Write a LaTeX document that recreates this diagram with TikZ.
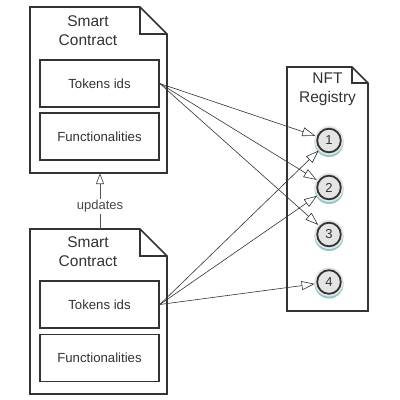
\documentclass[tikz,border=0pt]{standalone}
\usepackage{fontspec}
\setmainfont{Liberation Sans}
\usetikzlibrary{arrows.meta}
\definecolor{ink}{HTML}{333333}
\definecolor{disc}{HTML}{E4E4E4}
\definecolor{teal}{HTML}{8CC8C8}
\begin{document}
\begin{tikzpicture}[x=1pt,y=-1pt,
  docarea/.style={draw=none,minimum width=137pt,inner sep=0pt,outer sep=0pt},
  inbox/.style={draw=ink,line width=1.6pt,minimum width=119pt,minimum height=47pt,inner sep=0pt,
     font=\fontsize{13.2}{15}\selectfont,text=ink},
  head/.style={font=\fontsize{15.5}{19}\selectfont,text=ink,align=center,inner sep=0pt},
  outline/.style={draw=ink,line width=1.6pt,line join=miter,fill=white},
  link/.style={draw=ink,line width=0.6pt,-{Triangle[open,length=13pt,width=9pt]}},
  regnum/.style={circle,minimum size=29pt,inner sep=0pt,outer sep=0pt,fill=disc,font=\fontsize{13}{15}\selectfont,text=ink}
]
\useasboundingbox (0,0) rectangle (400,400);
\fill[white] (0,0) rectangle (400,400);

% top smart contract document
\node[docarea,minimum height=166pt,anchor=north west] (doc1) at (30,7) {};
\draw[outline] (30,7) -- (140,7) -- (167,34) -- (167,173) -- (30,173) -- cycle;
\draw[ink,line width=1.6pt] (140,7) -- (140,34) -- (167,34);
\node[head] (h1) at (88,30.5) {Smart\\Contract};
\node[inbox] (tok1) at (99.5,83.5) {Tokens ids};
\node[inbox] (fun1) at (99.5,136.5) {Functionalities};

% bottom smart contract document
\node[docarea,minimum height=165pt,anchor=north west] (doc2) at (30,229) {};
\draw[outline] (30,229) -- (140,229) -- (167,256) -- (167,394) -- (30,394) -- cycle;
\draw[ink,line width=1.6pt] (140,229) -- (140,256) -- (167,256);
\node[head] (h2) at (88,252) {Smart\\Contract};
\node[inbox] (tok2) at (99.5,304.5) {Tokens ids};
\node[inbox] (fun2) at (99.5,358) {Functionalities};

% updates connector
\draw[draw=ink!85,line width=0.7pt,-{Triangle[open,length=11pt,width=8pt]}] (100,229) coordinate (up2) -- (100,173) coordinate (up1)
  node[pos=0.4,fill=white,inner sep=1.5pt,font=\fontsize{13}{15}\selectfont,text=ink!90] (upd) {updates};

% NFT registry document
\node[docarea,minimum width=81pt,minimum height=244pt,anchor=north west] (reg) at (287,67) {};
\draw[outline] (287,67) -- (352,67) -- (368,83) -- (368,311) -- (287,311) -- cycle;
\draw[ink,line width=1.6pt] (352,67) -- (352,83) -- (368,83);
\node[head] (h3) at (327.5,89) {NFT\\Registry};

% registry entries
\foreach \n/\yy in {1/140.5,2/187.5,3/234.5,4/282} {
  \fill[teal] (329,\yy+2) circle (14.5pt);
  \node[regnum] (c\n) at (329,\yy) {\n};
  \draw[ink,line width=1.8pt] (c\n.center) circle (11.8pt);
}

% links
\draw[link] (tok1.east) -- (c1);
\draw[link] (tok1.east) -- (c2);
\draw[link] (tok1.east) -- (c3);
\draw[link] (tok2.east) -- (c1);
\draw[link] (tok2.east) -- (c2);
\draw[link] (tok2.east) -- (c4);
\end{tikzpicture}
\end{document}
